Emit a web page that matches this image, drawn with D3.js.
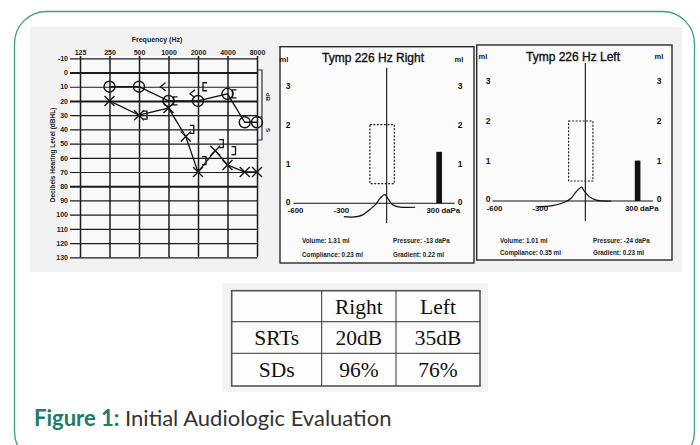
<!DOCTYPE html>
<html><head><meta charset="utf-8">
<script src="https://cdn.jsdelivr.net/npm/d3@7"></script>
<style>html,body{margin:0;padding:0;background:#fff;} svg{display:block;}</style>
</head><body>
<svg id="c" width="700" height="445"></svg>
<script>
// ---------------- data ----------------
const frequencies = [125, 250, 500, 1000, 2000, 4000, 8000];
const dbTicks = [-10, 0, 10, 20, 30, 40, 50, 60, 70, 80, 90, 100, 110, 120, 130];

const rightAirFreq = [250, 500, 1000, 2000, 4000, 6000, 8000];
const rightAirDb   = [10, 10, 20, 20, 15, 35, 35];
const leftAirFreq  = [250, 500, 1000, 1500, 2000, 3000, 4000, 6000, 8000];
const leftAirDb    = [20, 30, 25, 45, 70, 55, 65, 70, 70];
const rightBoneFreq = [1000, 2000];
const rightBoneDb   = [10, 15];
const rightMaskedBoneFreq = [1000, 2000, 4000];
const rightMaskedBoneDb   = [20, 10, 15];
const leftMaskedBoneFreq = [500, 1500, 2000, 3000, 4000];
const leftMaskedBoneDb   = [30, 40, 62, 50, 55];

const tympTitles = ["Tymp 226 Hz Right", "Tymp 226 Hz Left"];
const tympPressureTicks = [-600, -300, 300];
const tympMlTicks = [0, 1, 2, 3];
const rightCurvePressure = [-280, -225, -160, -108, -75, -42, -13, 10, 37, 76, 187];
const rightCurveMl       = [-0.34, -0.35, -0.30, -0.15, -0.04, 0.13, 0.22, 0.11, -0.03, -0.09, -0.10];
const leftCurvePressure  = [-313, -225, -137, -93, -61, -33, -24, -7, 26, 72, 170];
const leftCurveMl        = [-0.14, -0.12, -0.03, 0.07, 0.23, 0.33, 0.35, 0.25, 0.11, 0.02, 0.0];
const tympVolume     = [1.31, 1.01];
const tympCompliance = [0.23, 0.35];
const tympPeakPressure = [-13, -24];
const tympGradient   = [0.22, 0.23];
const normalBoxPressure = [-110, 50];
const normalBoxMl = [0.5, 2.0];
const volumeBarPressure = [325, 362];

const tableHeader = ["", "Right", "Left"];
const tableRowLabels = ["SRTs", "SDs"];
const srtValues = ["20dB", "35dB"];
const sdValues  = ["96%", "76%"];

const captionLabel = "Figure 1:";
const captionText = " Initial Audiologic Evaluation";

// ---------------- drawing ----------------
const svg = d3.select("#c");
const SANS = "'Liberation Sans', Arial, sans-serif";

// outer rounded frame
svg.append("rect").attr("x", 14.5).attr("y", 11.5).attr("width", 680).attr("height", 452)
  .attr("rx", 32).attr("fill", "#fff").attr("stroke", "#3f9c84").attr("stroke-width", 1.3);

// scanned figure background
svg.append("rect").attr("x", 30).attr("y", 27).attr("width", 652).attr("height", 245).attr("fill", "#f2f2f2");

// ---------- audiogram ----------
const ag = svg.append("g");
const x = d3.scaleLog().base(2).domain([125, 8000]).range([80, 257]);
const y = d3.scaleLinear().domain([-10, 130]).range([58.3, 257.3]);

ag.append("rect").attr("x", 70).attr("y", 56).attr("width", 187).attr("height", 202).attr("fill", "#f9f9f9");

const yAx = ag.append("g").attr("transform", "translate(70,0)")
  .call(d3.axisLeft(y).tickValues(dbTicks).tickSize(-187).tickPadding(2).tickFormat(d => String(d)));
yAx.select(".domain").remove();
yAx.selectAll("line").attr("stroke", "#1b1b1b").attr("stroke-width", d => (d === 20 || d === 80 || d === 0) ? 1.9 : 1.2);
yAx.selectAll("text").attr("font-family", SANS).attr("font-weight", "bold").attr("font-size", 7).attr("fill", "#222");

const xAx = ag.append("g").attr("transform", "translate(0,56)")
  .call(d3.axisTop(x).tickValues(frequencies).tickSize(-(257.3 - 56)).tickPadding(1).tickFormat(d => String(d)));
xAx.select(".domain").remove();
xAx.selectAll("line").attr("stroke", "#1b1b1b").attr("stroke-width", 1.5);
xAx.selectAll("text").attr("font-family", SANS).attr("font-weight", "bold").attr("font-size", 7).attr("fill", "#222");

ag.append("text").attr("x", 157).attr("y", 42).attr("text-anchor", "middle")
  .attr("font-family", SANS).attr("font-weight", "bold").attr("font-size", 7).attr("fill", "#222").text("Frequency (Hz)");
ag.append("text").attr("transform", "translate(55,155) rotate(-90)").attr("text-anchor", "middle")
  .attr("font-family", SANS).attr("font-weight", "bold").attr("font-size", 6.5).attr("fill", "#222").text("Decibels Hearing Level (dBHL)");

// masking bracket on the right
const br = ag.append("g").attr("stroke", "#222").attr("stroke-width", 1.1).attr("fill", "none");
br.append("path").attr("d", "M258,70 H262 V140 H258 M258,117 H262");
ag.append("text").attr("transform", "translate(266,97) rotate(90)").attr("text-anchor", "middle")
  .attr("font-family", SANS).attr("font-weight", "bold").attr("font-size", 6).attr("fill", "#222").text("dB");
ag.append("text").attr("transform", "translate(266,130) rotate(90)").attr("text-anchor", "middle")
  .attr("font-family", SANS).attr("font-weight", "bold").attr("font-size", 6).attr("fill", "#222").text("S");

const toPts = (fs, ds) => fs.map((f, i) => ({ f, db: ds[i] }));
const lineGen = d3.line().x(d => x(d.f)).y(d => y(d.db));
const rightAir = toPts(rightAirFreq, rightAirDb);
const leftAir = toPts(leftAirFreq, leftAirDb);

ag.append("path").attr("d", lineGen(rightAir)).attr("fill", "none").attr("stroke", "#151515").attr("stroke-width", 1.3);
ag.append("path").attr("d", lineGen(leftAir)).attr("fill", "none").attr("stroke", "#151515").attr("stroke-width", 1.3);

ag.selectAll(".ro").data(rightAir).join("circle")
  .attr("cx", d => x(d.f)).attr("cy", d => y(d.db)).attr("r", 5.5)
  .attr("fill", "none").attr("stroke", "#151515").attr("stroke-width", 1.4);
ag.selectAll(".lx").data(leftAir).join("path")
  .attr("transform", d => `translate(${x(d.f)},${y(d.db)})`)
  .attr("d", "M-5,-5 L5,5 M-5,5 L5,-5").attr("fill", "none").attr("stroke", "#151515").attr("stroke-width", 1.4);

ag.selectAll(".rb").data(toPts(rightBoneFreq, rightBoneDb)).join("path")
  .attr("transform", d => `translate(${x(d.f) - 6},${y(d.db)})`)
  .attr("d", "M3,-4 L-2,0 L3,4").attr("fill", "none").attr("stroke", "#151515").attr("stroke-width", 1.3);
ag.selectAll(".rmb").data(toPts(rightMaskedBoneFreq, rightMaskedBoneDb)).join("path")
  .attr("transform", d => `translate(${x(d.f) + 7},${y(d.db)})`)
  .attr("d", "M2,-4 H-2 V4 H2").attr("fill", "none").attr("stroke", "#151515").attr("stroke-width", 1.3);
ag.selectAll(".lmb").data(toPts(leftMaskedBoneFreq, leftMaskedBoneDb)).join("path")
  .attr("transform", d => `translate(${x(d.f) + 6},${y(d.db)})`)
  .attr("d", "M-2,-4 H2 V4 H-2").attr("fill", "none").attr("stroke", "#151515").attr("stroke-width", 1.3);

// ---------- tympanograms ----------
const panels = [
  { box: [280, 46.7, 474, 263], xr: [295, 432.5], yr: [203.3, 85.4], cx: 373, ty: 62, lx: 288, rx: 460, mlL: 284, mlR: 459, mlY: 62,
    rowY: [243, 257], colX: [302, 393], cp: rightCurvePressure, cm: rightCurveMl },
  { box: [476.7, 45, 672, 260], xr: [494, 631], yr: [201, 81], cx: 573, ty: 60.5, lx: 488, rx: 659, mlL: 483, mlR: 659, mlY: 59,
    rowY: [243, 255], colX: [500, 593], cp: leftCurvePressure, cm: leftCurveMl }
];

panels.forEach((p, i) => {
  const g = svg.append("g");
  const xs = d3.scaleLinear().domain([-600, 300]).range(p.xr);
  const ys = d3.scaleLinear().domain([0, 3]).range(p.yr);
  g.append("rect").attr("x", p.box[0]).attr("y", p.box[1]).attr("width", p.box[2] - p.box[0]).attr("height", p.box[3] - p.box[1])
    .attr("fill", "#fbfbfb").attr("stroke", "#2a2a2a").attr("stroke-width", 1.4);
  g.append("text").attr("x", p.cx).attr("y", p.ty).attr("text-anchor", "middle")
    .attr("font-family", SANS).attr("font-size", 12).attr("fill", "#111")
    .attr("stroke", "#111").attr("stroke-width", 0.35).text(tympTitles[i]);
  [p.mlL, p.mlR].forEach(mx => g.append("text").attr("x", mx).attr("y", p.mlY).attr("text-anchor", "middle")
    .attr("font-family", SANS).attr("font-weight", "bold").attr("font-size", 7.5).attr("fill", "#111").text("ml"));

  [p.lx, p.rx].forEach(ax => {
    const a = g.append("g").attr("transform", `translate(${ax},0)`)
      .call(d3.axisLeft(ys).tickValues(tympMlTicks).tickSize(0).tickPadding(0).tickFormat(d => String(d)));
    a.select(".domain").remove();
    a.selectAll("text").attr("text-anchor", "middle").attr("x", 0).attr("dy", d => d === 0 ? "0.1em" : "0.32em")
      .attr("font-family", SANS).attr("font-weight", "bold").attr("font-size", 8.5).attr("fill", "#111");
  });

  // baseline
  g.append("line").attr("x1", xs(-610)).attr("x2", xs(445)).attr("y1", ys(0)).attr("y2", ys(0))
    .attr("stroke", "#111").attr("stroke-width", 1.1);
  const bx = g.append("g").attr("transform", `translate(0,${ys(0)})`)
    .call(d3.axisBottom(xs).tickValues(tympPressureTicks).tickSize(0).tickPadding(4).tickFormat(d => String(d)));
  bx.select(".domain").remove();
  bx.selectAll("text").attr("font-family", SANS).attr("font-weight", "bold").attr("font-size", 7.8).attr("fill", "#111");
  g.append("text").attr("x", xs(300) + 9).attr("y", ys(0) + 4).attr("dy", "0.71em")
    .attr("font-family", SANS).attr("font-weight", "bold").attr("font-size", 7.8).attr("fill", "#111").text("daPa");

  // vertical zero line
  g.append("line").attr("x1", xs(0)).attr("x2", xs(0)).attr("y1", ys(3.45)).attr("y2", ys(-0.5))
    .attr("stroke", "#111").attr("stroke-width", 1.1);
  // normal box
  g.append("rect").attr("x", xs(normalBoxPressure[0])).attr("y", ys(normalBoxMl[1]))
    .attr("width", xs(normalBoxPressure[1]) - xs(normalBoxPressure[0])).attr("height", ys(normalBoxMl[0]) - ys(normalBoxMl[1]))
    .attr("fill", "none").attr("stroke", "#222").attr("stroke-width", 1.2).attr("stroke-dasharray", "2,1.5");
  // volume bar
  g.append("rect").attr("x", xs(volumeBarPressure[0])).attr("y", ys(tympVolume[i]))
    .attr("width", xs(volumeBarPressure[1]) - xs(volumeBarPressure[0])).attr("height", ys(0) - ys(tympVolume[i]))
    .attr("fill", "#111");
  // curve
  const pts = p.cp.map((v, k) => [v, p.cm[k]]);
  g.append("path").attr("d", d3.line().x(d => xs(d[0])).y(d => ys(d[1])).curve(d3.curveCatmullRom)(pts))
    .attr("fill", "none").attr("stroke", "#111").attr("stroke-width", 1.2);

  // readouts
  const rd = [
    [p.colX[0], p.rowY[0], `Volume: ${tympVolume[i].toFixed(2)} ml`],
    [p.colX[0], p.rowY[1], `Compliance: ${tympCompliance[i].toFixed(2)} ml`],
    [p.colX[1], p.rowY[0], `Pressure: ${tympPeakPressure[i]} daPa`],
    [p.colX[1], p.rowY[1], `Gradient: ${tympGradient[i].toFixed(2)} ml`]
  ];
  rd.forEach(r => g.append("text").attr("x", r[0]).attr("y", r[1])
    .attr("font-family", SANS).attr("font-weight", "bold").attr("font-size", 6.3).attr("fill", "#222").text(r[2]));
});

// ---------- table ----------
const colEdges = [231.7, 321.7, 396, 480];
const rowEdges = [290.7, 321.7, 353.3, 386];
svg.append("rect").attr("x", 222).attr("y", 283).attr("width", 266).attr("height", 109).attr("fill", "#f4f4f4");
svg.append("rect").attr("x", colEdges[0]).attr("y", rowEdges[0]).attr("width", colEdges[3] - colEdges[0])
  .attr("height", rowEdges[3] - rowEdges[0]).attr("fill", "#fdfdfd").attr("stroke", "#555").attr("stroke-width", 1.6);
const tg = svg.append("g").attr("stroke", "#333").attr("stroke-width", 1);
[rowEdges[1], rowEdges[2]].forEach(yy => tg.append("line").attr("x1", colEdges[0]).attr("x2", colEdges[3]).attr("y1", yy).attr("y2", yy));
[colEdges[1], colEdges[2]].forEach(xx => tg.append("line").attr("x1", xx).attr("x2", xx).attr("y1", rowEdges[0]).attr("y2", rowEdges[3]));
const tableRows = [tableHeader, [tableRowLabels[0], ...srtValues], [tableRowLabels[1], ...sdValues]];
tableRows.forEach((row, r) => row.forEach((cell, c) => {
  svg.append("text").attr("x", (colEdges[c] + colEdges[c + 1]) / 2).attr("y", (rowEdges[r] + rowEdges[r + 1]) / 2)
    .attr("dy", "0.35em").attr("text-anchor", "middle")
    .attr("font-family", "'Liberation Serif', 'Times New Roman', serif").attr("font-size", 21.5).attr("fill", "#111").text(cell);
}));

// ---------- caption ----------
const cap = svg.append("text").attr("x", 34).attr("y", 426).attr("font-family", "Lato, 'Open Sans', sans-serif").attr("font-size", 22);
cap.append("tspan").attr("font-weight", "bold").attr("fill", "#1f7c64").text(captionLabel);
cap.append("tspan").attr("fill", "#333").text(captionText);
</script>
</body></html>
